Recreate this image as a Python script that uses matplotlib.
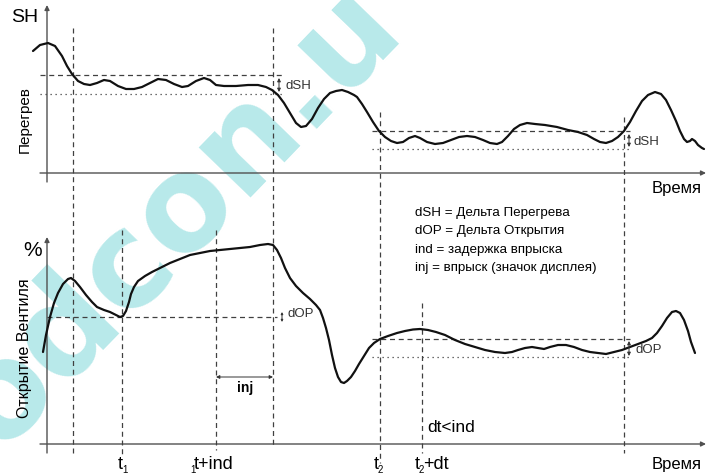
import matplotlib
matplotlib.use("Agg")
import matplotlib.pyplot as plt

plt.rcParams['font.family'] = ['Liberation Sans', 'DejaVu Sans']

# ---- data (diagram read in pixel units of the reference) ----
sh_x = [33, 40, 48, 55, 62, 67, 72, 78, 84, 90, 97, 104, 110, 118, 126, 134, 142, 150, 158, 166,
        174, 182, 188, 196, 204, 210, 216, 224, 236, 248, 258, 266, 272, 278, 284, 290, 296, 301,
        306, 312, 318, 324, 330, 336, 342, 348, 354, 357, 362, 367, 373, 379, 385, 391, 397, 403,
        409, 415, 420, 427, 435, 443, 451, 459, 467, 475, 483, 490, 497, 502, 508, 514, 520, 527,
        535, 545, 557, 568, 578, 587, 594, 600, 606, 612, 618, 624, 630, 636, 642, 648, 655, 661,
        666, 671, 676, 680, 684, 687, 690, 692, 695, 698, 702, 704]
sh_y = [51, 45, 43, 46, 56, 66, 74, 81, 84, 85, 83, 80, 81, 86, 89, 89, 87, 83, 79, 80,
        84, 87, 86, 81, 78, 80, 85, 86, 86, 85, 85, 87, 90, 95, 103, 113, 123, 127,
        126, 119, 108, 99, 93, 91, 90, 92, 95, 97, 104, 112, 122, 131, 137, 141, 143, 142,
        138, 136, 138, 142, 144, 143, 140, 137, 136, 137, 140, 143, 144, 142, 136, 129, 125, 123,
        124, 125, 127, 130, 132, 135, 139, 142, 143, 141, 137, 131, 122, 111, 101, 95, 92, 94,
        100, 110, 121, 131, 139, 142, 141, 139, 141, 145, 148, 149]

op_x = [43, 46, 50, 54, 58, 63, 68, 71, 75, 80, 86, 92, 97, 104, 110, 116, 120, 123, 126, 129,
        131, 134, 138, 145, 152, 160, 170, 180, 190, 200, 210, 220, 230, 240, 250, 260, 268, 273,
        277, 281, 285, 290, 296, 303, 310, 316, 320, 323, 326, 329, 332, 335, 338, 341, 344, 347,
        351, 355, 359, 364, 369, 374, 380, 388, 397, 405, 413, 420, 428, 436, 445, 455, 465, 475,
        485, 495, 505, 512, 518, 525, 532, 538, 544, 550, 558, 566, 574, 582, 590, 598, 606, 614,
        622, 630, 638, 646, 652, 657, 662, 667, 672, 676, 680, 684, 688, 691, 695]
op_y = [352, 335, 317, 303, 293, 284, 279, 278, 281, 287, 295, 302, 307, 310, 312, 315, 317, 316,
        311, 302, 294, 287, 281, 276, 272, 268, 263, 259, 255, 253, 251, 250, 249, 248, 247, 245,
        244, 245, 250, 258, 268, 278, 286, 293, 299, 305, 310, 318, 328, 340, 355, 368, 377, 382,
        383, 381, 377, 371, 364, 356, 348, 343, 339, 336, 333, 331, 329.5, 329, 330, 332, 335,
        340, 344, 347, 350, 352, 353, 352, 350, 348, 347, 348, 349, 347, 345, 345, 347, 350, 352,
        353, 354, 352, 350, 347, 344, 341, 338, 333, 326, 318, 312, 311, 313, 320, 331, 342, 353]

legend_lines = ["dSH = Дельта Перегрева",
                "dOP = Дельта Открытия",
                "ind = задержка впрыска",
                "inj = впрыск (значок дисплея)"]

# vertical dashed guide lines: (x, y_top, y_bottom)
vlines = [(73, 28, 453), (273, 28, 447), (122, 230, 455), (216, 230, 450),
          (380, 112, 463), (422, 303, 453), (624, 117, 453)]

fig = plt.figure(figsize=(7.14, 4.74), dpi=100)
ax = fig.add_axes([0, 0, 1, 1])
ax.set_xlim(0, 714)
ax.set_ylim(474, 0)
ax.axis('off')

# watermark
ax.text(176, 217, "odcon.u", rotation=46, color='#b8e9ea', fontsize=94,
        family='DejaVu Sans', weight='bold', ha='center', va='center', zorder=0)

axc = '#505050'
gc = '#404040'
# axes with arrows
for (x0, y0, x1, y1) in [(47, 182, 47, 5), (40, 173, 706, 173),
                         (47, 453, 47, 237), (40, 444, 706, 444)]:
    ax.annotate("", xy=(x1, y1), xytext=(x0, y0),
                arrowprops=dict(arrowstyle='-|>', color=axc, lw=1.0,
                                mutation_scale=7, shrinkA=0, shrinkB=0), zorder=2)

for (x, yt, yb) in vlines:
    ax.plot([x, x], [yt, yb], color=gc, lw=0.9, ls=(0, (4, 3)), zorder=2)

# horizontal bands
ax.plot([40, 283], [75, 75], color=gc, lw=0.9, ls=(0, (4, 3)))
ax.plot([40, 283], [94, 94], color=gc, lw=0.9, ls=(0, (1, 3)))
ax.plot([372, 630], [131, 131], color=gc, lw=0.9, ls=(0, (4, 3)))
ax.plot([372, 630], [149, 149], color=gc, lw=0.9, ls=(0, (1, 3)))
ax.plot([47, 277], [317, 317], color=gc, lw=0.9, ls=(0, (4, 3)))
ax.plot([372, 630], [339, 339], color=gc, lw=0.9, ls=(0, (4, 3)))
ax.plot([372, 630], [357, 357], color=gc, lw=0.9, ls=(0, (1, 3)))

# curves
ax.plot(sh_x, sh_y, color='#111111', lw=1.6, solid_capstyle='round', zorder=3)
ax.plot(op_x, op_y, color='#111111', lw=1.6, solid_capstyle='round', zorder=3)

def darrow(p0, p1, ms=5):
    ax.annotate("", xy=p1, xytext=p0,
                arrowprops=dict(arrowstyle='<|-|>', color='#333333', lw=0.7,
                                mutation_scale=ms, shrinkA=0, shrinkB=0))

darrow((279, 78), (279, 92))
darrow((629, 134), (629, 147))
darrow((282, 312), (282, 322), 3)
darrow((629, 341), (629, 356))
darrow((216, 377), (273, 377))

sm = dict(color='#333333', fontsize=9.5)
ax.text(285, 86, "dSH", ha='left', va='center', **sm)
ax.text(634, 142, "dSH", ha='left', va='center', **sm)
ax.text(287, 314, "dOP", ha='left', va='center', **sm)
ax.text(635, 350, "dOP", ha='left', va='center', **sm)

ax.text(245, 388, "inj", ha='center', va='center', fontsize=10, weight='bold')

ax.text(11, 22, "SH", fontsize=14, ha='left', va='baseline')
ax.text(33, 250, "%", fontsize=15, ha='center', va='center')
ax.text(25, 120, "Перегрев", rotation=90, fontsize=11, ha='center', va='center')
ax.text(25, 348, "Открытие Вентиля", rotation=90, fontsize=11.5, ha='center', va='center')
ax.text(677, 189, "Время", fontsize=12, ha='center', va='center')
ax.text(677, 465, "Время", fontsize=12, ha='center', va='center')

for i, line in enumerate(legend_lines):
    ax.text(415, 213 + i * 18.3, line, fontsize=9.6, ha='left', va='center')

ax.text(427, 427, "dt<ind", fontsize=12.5, ha='left', va='center')

tk = dict(fontsize=13, va='baseline')
sub = dict(fontsize=7, va='baseline')
ax.text(118, 469, "t", ha='left', **tk)
ax.text(122, 473, "1", ha='left', **sub)
ax.text(190, 473, "1", ha='left', **sub)
ax.text(194, 469, "t+ind", ha='left', **tk)
ax.text(374, 469, "t", ha='left', **tk)
ax.text(378, 473, "2", ha='left', **sub)
ax.text(415, 469, "t", ha='left', **tk)
ax.text(419, 473, "2", ha='left', **sub)
ax.text(423, 469, "+dt", ha='left', **tk)

fig.savefig("out.png", dpi=100)
